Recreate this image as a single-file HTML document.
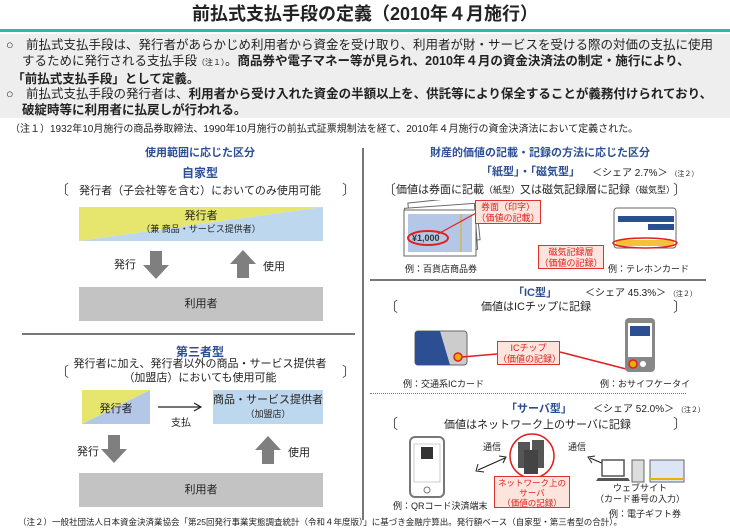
<!DOCTYPE html>
<html><head><meta charset="utf-8"><style>
*{margin:0;padding:0;box-sizing:border-box}
body{width:730px;height:531px;background:#fff;position:relative;overflow:hidden;font-family:"Liberation Sans","Noto Sans CJK JP",sans-serif;color:#222}
.a{position:absolute;white-space:nowrap}
.c{text-align:center}
.b{font-weight:bold}
.blue{color:#2c4f94}
.red{color:#e02020}
.call{position:absolute;background:#fde4dc;border:1px solid #e03030;color:#e02020;font-size:9px;text-align:center;line-height:11px}
</style></head><body>
<div class="a c b" style="left:0;width:730px;top:3px;font-size:18px;line-height:22px">前払式支払手段の定義（2010年４月施行）</div>
<div class="a" style="left:0;top:29px;width:730px;height:3px;background:#31b7a9"></div>
<div class="a" style="left:0;top:34px;width:730px;height:84px;background:#eeeeee"></div>
<div class="a" style="left:6px;top:37px;font-size:12.5px;line-height:16px">○　前払式支払手段は、発行者があらかじめ利用者から資金を受け取り、利用者が財・サービスを受ける際の対価の支払に使用<br>　 するために発行される支払手段<span style="font-size:8px">（注１）</span>。<b>商品券や電子マネー等が見られ、2010年４月の資金決済法の制定・施行により、</b><br>　<b>「前払式支払手段」として定義。</b></div>
<div class="a" style="left:6px;top:86px;font-size:12.5px;line-height:16px">○　前払式支払手段の発行者は、<b>利用者から受け入れた資金の半額以上を、供託等により保全することが義務付けられており、</b><br>　 <b>破綻時等に利用者に払戻しが行われる。</b></div>
<div class="a" style="left:10px;top:120px;font-size:10px">（注１）1932年10月施行の商品券取締法、1990年10月施行の前払式証票規制法を経て、2010年４月施行の資金決済法において定義された。</div>

<!-- left -->
<div class="a" style="left:362px;top:148px;width:2px;height:372px;background:#777"></div>
<div class="a c b blue" style="left:100px;width:200px;top:144px;font-size:11px">使用範囲に応じた区分</div>
<div class="a c b blue" style="left:150px;width:100px;top:164px;font-size:12px">自家型</div>
<div class="a" style="left:55px;top:180px;font-size:14px;color:#555">〔</div>
<div class="a" style="left:342px;top:180px;font-size:14px;color:#555">〕</div>
<div class="a c" style="left:60px;width:280px;top:182px;font-size:11px">発行者（子会社等を含む）においてのみ使用可能</div>
<svg class="a" style="left:79px;top:207px" width="244" height="34"><polygon points="0,0 244,0 0,34" fill="#e6e56e"/><polygon points="244,0 244,34 0,34" fill="#bdd7ee"/></svg>
<div class="a c" style="left:79px;width:244px;top:210px;font-size:11px;line-height:13px">発行者<br><span style="font-size:9px">（兼 商品・サービス提供者）</span></div>
<div class="a" style="left:114px;top:256px;font-size:11px">発行</div>
<svg class="a" style="left:143px;top:251px" width="26" height="28"><polygon points="7,0 19,0 19,14 26,14 13,28 0,14 7,14" fill="#7f7f7f"/></svg>
<svg class="a" style="left:230px;top:250px" width="26" height="28"><polygon points="13,0 26,14 19,14 19,28 7,28 7,14 0,14" fill="#7f7f7f"/></svg>
<div class="a" style="left:263px;top:258px;font-size:11px">使用</div>
<div class="a c" style="left:79px;width:244px;top:287px;height:34px;background:#c3c3c3;font-size:11px;line-height:34px">利用者</div>
<div class="a" style="left:22px;top:333px;width:333px;height:2px;background:#777"></div>
<div class="a c b blue" style="left:150px;width:100px;top:343px;font-size:12px">第三者型</div>
<div class="a" style="left:55px;top:362px;font-size:14px;color:#555">〔</div>
<div class="a" style="left:342px;top:362px;font-size:14px;color:#555">〕</div>
<div class="a c" style="left:60px;width:280px;top:357px;font-size:11px;line-height:14px">発行者に加え、発行者以外の商品・サービス提供者<br>（加盟店）においても使用可能</div>
<svg class="a" style="left:82px;top:390px" width="68" height="34"><polygon points="0,0 68,0 0,34" fill="#e6e56e"/><polygon points="68,0 68,34 0,34" fill="#b4c7e7"/></svg>
<div class="a c" style="left:82px;width:68px;top:400px;font-size:11px">発行者</div>
<svg class="a" style="left:156px;top:401px" width="48" height="12"><line x1="2" y1="6" x2="44" y2="6" stroke="#222" stroke-width="1.2"/><polyline points="38,2 45,6 38,10" fill="none" stroke="#222" stroke-width="1.2"/></svg>
<div class="a" style="left:171px;top:414px;font-size:10px">支払</div>
<div class="a c" style="left:213px;width:110px;top:390px;height:34px;background:#bdd7ee;font-size:11px;line-height:14px;padding-top:3px">商品・サービス提供者<br><span style="font-size:9px">（加盟店）</span></div>
<div class="a" style="left:77px;top:443px;font-size:11px">発行</div>
<svg class="a" style="left:101px;top:435px" width="26" height="28"><polygon points="7,0 19,0 19,14 26,14 13,28 0,14 7,14" fill="#7f7f7f"/></svg>
<svg class="a" style="left:255px;top:436px" width="26" height="28"><polygon points="13,0 26,14 19,14 19,28 7,28 7,14 0,14" fill="#7f7f7f"/></svg>
<div class="a" style="left:288px;top:444px;font-size:11px">使用</div>
<div class="a c" style="left:79px;width:244px;top:473px;height:34px;background:#c3c3c3;font-size:11px;line-height:34px">利用者</div>
<div class="a" style="left:18px;top:516px;font-size:8.5px">（注２）一般社団法人日本資金決済業協会「第25回発行事業実態調査統計（令和４年度版）」に基づき金融庁算出。発行額ベース（自家型・第三者型の合計）。</div>

<!-- right -->
<div class="a c b blue" style="left:420px;width:240px;top:144px;font-size:11px">財産的価値の記載・記録の方法に応じた区分</div>
<div class="a b blue" style="left:481px;top:163px;font-size:11px">「紙型」・「磁気型」</div>
<div class="a" style="left:592px;top:164px;font-size:10px">＜シェア 2.7%＞ <span style="font-size:7px">（注２）</span></div>
<div class="a" style="left:382px;top:180px;font-size:14px;color:#555">〔</div>
<div class="a" style="left:673px;top:180px;font-size:14px;color:#555">〕</div>
<div class="a" style="left:396px;top:181px;font-size:11px">価値は券面に記載<span style="font-size:9px">（紙型）</span>又は磁気記録層に記録<span style="font-size:9px">（磁気型）</span></div>
<svg class="a" style="left:398px;top:200px" width="90" height="60">
<rect x="12" y="0" width="68" height="44" fill="#fff" stroke="#666" transform="rotate(-6 40 22)"/>
<rect x="8" y="6" width="70" height="46" fill="#fff" stroke="#666" transform="rotate(-4 40 28)"/>
<rect x="6" y="10" width="72" height="46" fill="#fff" stroke="#666"/>
<rect x="10" y="14" width="64" height="38" fill="#b4c7e7"/>
<line x1="63" y1="14" x2="63" y2="52" stroke="#e0b000"/>
<ellipse cx="30" cy="38" rx="20" ry="7" fill="none" stroke="#e02020" stroke-width="2"/>
<text x="14" y="41" font-size="9" font-weight="bold" fill="#333" font-family="Liberation Sans">¥1,000</text>
<line x1="40" y1="34" x2="80" y2="12" stroke="#e02020" stroke-width="1.2"/>
</svg>
<div class="call" style="left:475px;top:200px;width:66px;height:24px;padding-top:1px">券面（印字）<br>（価値の記載）</div>
<svg class="a" style="left:612px;top:206px" width="70" height="48">
<rect x="2" y="2" width="62" height="40" rx="3" fill="#fff" stroke="#666"/>
<g fill="#2c4f94"><rect x="6" y="10" width="56" height="6"/><rect x="36" y="18" width="26" height="6"/></g>
<rect x="4" y="34" width="58" height="6" fill="#f3c23a"/>
<ellipse cx="33" cy="37" rx="32" ry="5" fill="none" stroke="#e02020" stroke-width="1.5"/>
</svg>
<div class="call" style="left:538px;top:245px;width:66px;height:24px;padding-top:1px">磁気記録層<br>（価値の記録）</div>
<div class="a" style="left:405px;top:262px;font-size:9px">例：百貨店商品券</div>
<div class="a" style="left:608px;top:262px;font-size:9px">例：テレホンカード</div>
<div class="a" style="left:370px;top:279px;width:336px;height:1.5px;background:#777"></div>
<div class="a b blue" style="left:513px;top:284px;font-size:11px">「IC型」</div>
<div class="a" style="left:585px;top:284px;font-size:10px">＜シェア 45.3%＞ <span style="font-size:7px">（注２）</span></div>
<div class="a" style="left:384px;top:297px;font-size:14px;color:#555">〔</div>
<div class="a" style="left:673px;top:297px;font-size:14px;color:#555">〕</div>
<div class="a" style="left:481px;top:298px;font-size:11px">価値はICチップに記録</div>
<svg class="a" style="left:414px;top:330px" width="56" height="38">
<rect x="1" y="1" width="52" height="34" rx="3" fill="#ccc" stroke="#666"/>
<path d="M1,4 Q1,1 4,1 L26,1 L36,35 L4,35 Q1,35 1,32 Z" fill="#2c4f94"/>
<circle cx="44" cy="27" r="4" fill="#e8b000" stroke="#e02020" stroke-width="1.5"/>
</svg>
<svg class="a" style="left:460px;top:340px" width="180" height="40"><line x1="2" y1="17" x2="37" y2="14" stroke="#e02020" stroke-width="1.5"/><line x1="100" y1="12" x2="170" y2="30" stroke="#e02020" stroke-width="1.5"/></svg>
<div class="call" style="left:497px;top:341px;width:63px;height:24px;padding-top:1px">ICチップ<br>（価値の記録）</div>
<svg class="a" style="left:623px;top:317px" width="36" height="58">
<rect x="2" y="1" width="30" height="54" rx="4" fill="#888"/>
<rect x="5" y="6" width="24" height="34" fill="#fff"/>
<rect x="7" y="9" width="20" height="10" fill="#2c4f94"/>
<circle cx="10" cy="47" r="4" fill="#e8b000" stroke="#e02020" stroke-width="1.5"/>
<circle cx="20" cy="47" r="3" fill="#fff"/>
</svg>
<div class="a" style="left:403px;top:377px;font-size:9px">例：交通系ICカード</div>
<div class="a" style="left:600px;top:377px;font-size:9px">例：おサイフケータイ</div>
<div class="a" style="left:370px;top:393px;width:316px;border-top:1.5px dotted #777"></div>
<div class="a b blue" style="left:506px;top:400px;font-size:11px">「サーバ型」</div>
<div class="a" style="left:593px;top:400px;font-size:10px">＜シェア 52.0%＞ <span style="font-size:7px">（注２）</span></div>
<div class="a" style="left:384px;top:414px;font-size:14px;color:#555">〔</div>
<div class="a" style="left:673px;top:414px;font-size:14px;color:#555">〕</div>
<div class="a" style="left:444px;top:416px;font-size:11px">価値はネットワーク上のサーバに記録</div>
<svg class="a" style="left:408px;top:436px" width="40" height="64">
<rect x="2" y="1" width="34" height="60" rx="5" fill="#fff" stroke="#777" stroke-width="2"/>
<rect x="6" y="8" width="26" height="38" fill="#fff" stroke="#999" stroke-width="0.5"/>
<rect x="13" y="11" width="12" height="12" fill="#333"/>
<circle cx="19" cy="54" r="3" fill="none" stroke="#777"/>
</svg>
<div class="a" style="left:483px;top:440px;font-size:9px">通信</div>
<div class="a" style="left:568px;top:440px;font-size:9px">通信</div>
<svg class="a" style="left:475px;top:450px" width="150" height="30">
<line x1="3" y1="20" x2="30" y2="8" stroke="#222" stroke-width="1.2"/><polyline points="3,14 1,21 9,22" fill="none" stroke="#222"/><polyline points="24,6 31,7 28,13" fill="none" stroke="#222"/>
<line x1="115" y1="8" x2="143" y2="20" stroke="#222" stroke-width="1.2"/><polyline points="120,6 113,7 117,13" fill="none" stroke="#222"/><polyline points="137,22 145,21 141,14" fill="none" stroke="#222"/>
</svg>
<svg class="a" style="left:508px;top:432px" width="48" height="48">
<circle cx="24" cy="24" r="22" fill="#fff" stroke="#e02020" stroke-width="1.5"/>
<rect x="10" y="10" width="12" height="26" fill="#555"/><rect x="24" y="8" width="12" height="28" fill="#555"/><rect x="16" y="18" width="14" height="24" fill="#444"/>
<line x1="24" y1="46" x2="24" y2="48" stroke="#e02020"/>
</svg>
<div class="call" style="left:494px;top:476px;width:76px;height:32px;padding-top:1px;line-height:10px;font-size:8.5px">ネットワーク上の<br>サーバ<br>（価値の記録）</div>
<svg class="a" style="left:596px;top:456px" width="92" height="28">
<rect x="6" y="4" width="22" height="16" fill="#fff" stroke="#555" stroke-width="1.5"/><polygon points="2,22 32,22 34,25 0,25" fill="#555"/>
<rect x="36" y="4" width="12" height="22" fill="#ddd" stroke="#666"/>
<rect x="54" y="4" width="34" height="22" fill="#dbe5f5" stroke="#666"/><rect x="54" y="22" width="34" height="2" fill="#e8b000"/>
</svg>
<div class="a c" style="left:590px;width:100px;top:483px;font-size:9px;line-height:11px">ウェブサイト<br>（カード番号の入力）</div>
<div class="a" style="left:393px;top:499px;font-size:9px">例：QRコード決済端末</div>
<div class="a" style="left:609px;top:507px;font-size:9px">例：電子ギフト券</div>
</body></html>
